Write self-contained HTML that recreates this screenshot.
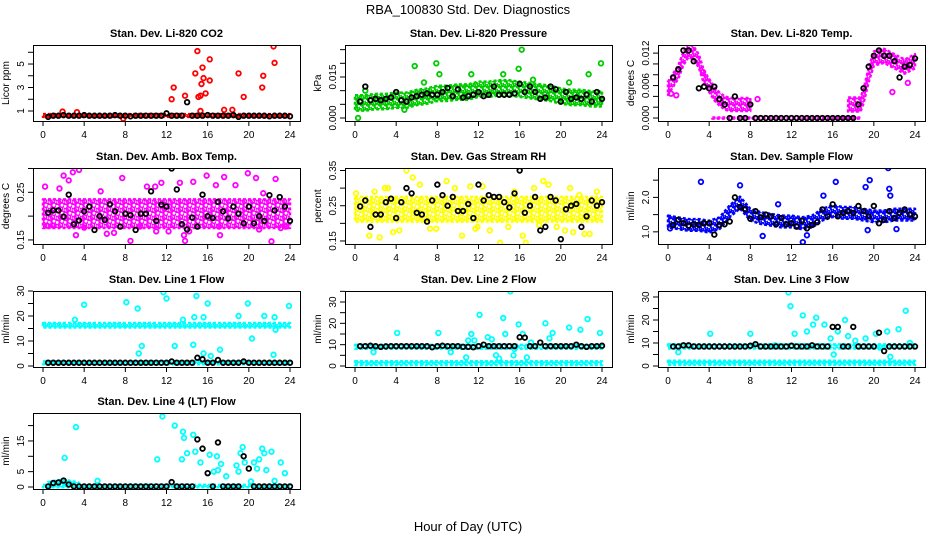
<!DOCTYPE html>
<html><head><meta charset="utf-8">
<style>
html,body{margin:0;padding:0;background:#fff;}
svg{display:block;font-family:"Liberation Sans",sans-serif;}
</style></head>
<body>
<svg id="chart" width="936" height="540" viewBox="0 0 936 540">
<defs id="defs"></defs>
<text x="468" y="14" text-anchor="middle" font-size="13">RBA_100830  Std. Dev. Diagnostics</text>
<text x="468" y="531" text-anchor="middle" font-size="13">Hour of Day (UTC)</text>
</svg>
<script>
const hours = [0,1,2,3,4,5,6,7,8,9,10,11,12,13,14,15,16,17,18,19,20,21,22,23,24];
const halfHours = [0.5,1,1.5,2,2.5,3,3.5,4,4.5,5,5.5,6,6.5,7,7.5,8,8.5,9,9.5,10,10.5,11,11.5,12,12.5,13,13.5,14,14.5,15,15.5,16,16.5,17,17.5,18,18.5,19,19.5,20,20.5,21,21.5,22,22.5,23,23.5,24];
const xTicks = [0,4,8,12,16,20,24];

// CO2
const co2BandY = [0.62,0.62,0.62,0.62,0.62,0.62,0.62,0.62,0.62,0.62,0.62,0.62,0.62,0.62,0.62,0.62,0.62,0.62,0.62,0.62,0.62,0.62,0.62,0.62,0.62];
const co2OutX = [12.5,12.7,13.8,14.8,15.0,15.1,15.3,15.3,15.4,15.5,15.6,15.8,16.2,16.2,17.6,18.4,19.0,19.5,21.3,21.4,22.4,22.5,1.9,3.3,7.8];
const co2OutY = [2.0,3.0,2.3,4.2,6.1,2.2,2.3,1.0,3.3,4.7,3.8,2.5,5.4,3.6,1.1,1.1,4.2,2.2,3.0,4.0,6.5,5.1,0.95,0.9,0.35];
const co2Black = [0.5,0.6,0.6,0.65,0.6,0.6,0.6,0.65,0.6,0.6,0.6,0.6,0.6,0.65,0.6,0.6,0.55,0.6,0.6,0.6,0.6,0.6,0.6,0.8,0.6,0.6,0.6,1.75,0.6,0.6,0.6,0.65,0.6,0.6,0.6,0.6,0.65,0.5,0.6,0.6,0.6,0.6,0.6,0.55,0.6,0.6,0.6,0.55];

// Pressure
const presBandY = [0.0055,0.0055,0.006,0.006,0.0065,0.0065,0.0075,0.008,0.009,0.009,0.0095,0.0095,0.0105,0.0105,0.011,0.011,0.0105,0.01,0.0095,0.009,0.008,0.0075,0.0075,0.007,0.007];
const presOutX = [0.3,5.8,7.9,8.2,16.2,15.9,23.9,22.7,4.8,6.7,11.3,1.0,14.4,17.3,20.8];
const presOutY = [0.0,0.019,0.020,0.016,0.025,0.018,0.020,0.016,0.003,0.013,0.016,0.010,0.016,0.014,0.013];
const presBlack = [0.006,0.0115,0.0065,0.007,0.0065,0.007,0.0075,0.0095,0.0065,0.006,0.0075,0.008,0.0085,0.009,0.0085,0.0085,0.0095,0.011,0.008,0.0105,0.0075,0.008,0.0085,0.0095,0.008,0.0085,0.0115,0.0085,0.0085,0.0085,0.009,0.0125,0.0095,0.0115,0.0095,0.007,0.0075,0.0115,0.0105,0.006,0.0095,0.007,0.0075,0.007,0.0085,0.006,0.0095,0.007];

// Temp
const tempAX = [0,0.5,1,1.5,2,2.5,3,3.5,4,4.5,5,5.5,6,7,8];
const tempAY = [0.0055,0.007,0.0085,0.011,0.0125,0.012,0.0105,0.0075,0.006,0.0045,0.0035,0.0028,0.0025,0.0025,0.0025];
const tempBX = [4.3,18.7];
const tempBY = [0,0];
const tempCX = [17.5,18.7,19,19.5,20,21,22,23,24];
const tempCY = [0.0025,0.0025,0.004,0.008,0.011,0.0115,0.0105,0.0095,0.0105];
const tempOutX = [0.3,0.8,8.7,21.8,23.3,3.4];
const tempOutY = [0.0045,0.0042,0.0035,0.0048,0.0065,0.0085];
const tempBlack = [0.0075,0.009,0.0125,0.0125,0.0105,0.0055,0.0058,0.0055,0.0058,0.0035,0.0025,0,0.004,0,0,0.0025,0,0,0,0,0,0,0,0,0,0,0,0,0,0,0,0,0,0,0,0,0.0025,0.0055,0.0095,0.0115,0.0125,0.0115,0.0115,0.0105,0.0075,0.0095,0.0098,0.011];

// Amb box temp
const ambBandY = [0.205,0.205,0.205,0.205,0.205,0.205,0.205,0.205,0.205,0.205,0.205,0.205,0.205,0.205,0.205,0.205,0.205,0.205,0.205,0.205,0.205,0.205,0.205,0.205,0.205];
const ambOutX = [0.2,0.4,1.6,2.0,2.5,2.9,3.5,4.0,5.6,6.9,7.7,8.5,10.1,11.0,11.5,12.2,13.3,13.8,14.6,15.9,16.8,17.2,17.6,18.7,19.9,20.7,21.4,22.2,22.6,23.1,23.6,1.0,6.2,9.4,13.7,17.1,21.0,3.2,10.9,14.2];
const ambOutY = [0.262,0.180,0.258,0.285,0.275,0.292,0.297,0.176,0.252,0.165,0.28,0.148,0.262,0.168,0.27,0.168,0.27,0.148,0.272,0.285,0.265,0.16,0.282,0.265,0.29,0.28,0.248,0.147,0.278,0.175,0.178,0.18,0.163,0.178,0.16,0.178,0.172,0.16,0.262,0.168];
const ambBlack = [0.207,0.212,0.212,0.199,0.245,0.183,0.191,0.21,0.22,0.171,0.2,0.192,0.225,0.21,0.178,0.205,0.202,0.171,0.205,0.205,0.252,0.19,0.224,0.22,0.3,0.256,0.183,0.172,0.197,0.178,0.245,0.2,0.196,0.23,0.21,0.195,0.22,0.205,0.185,0.22,0.185,0.2,0.19,0.244,0.212,0.24,0.22,0.19];

// Gas stream RH
const rhBandY = [0.24,0.24,0.24,0.24,0.24,0.24,0.24,0.24,0.24,0.24,0.24,0.24,0.24,0.24,0.24,0.24,0.24,0.24,0.24,0.24,0.24,0.24,0.24,0.24,0.24];
const rhOutX = [0.1,1.4,1.9,2.4,2.9,3.7,4.3,5.0,5.6,6.3,7.3,8.9,9.7,10.4,11.2,11.9,12.4,13.1,14.1,14.9,15.5,16.3,16.6,17.4,18.3,18.8,19.6,20.4,21.2,21.8,22.3,22.8,23.5,3.2,7.9,11.7,17.9,20.9];
const rhOutY = [0.285,0.165,0.29,0.16,0.3,0.175,0.18,0.35,0.33,0.31,0.185,0.32,0.3,0.165,0.305,0.19,0.305,0.18,0.145,0.19,0.29,0.165,0.145,0.3,0.32,0.31,0.19,0.18,0.175,0.28,0.17,0.17,0.29,0.3,0.185,0.185,0.195,0.3];
const rhBlack = [0.248,0.265,0.19,0.225,0.225,0.26,0.27,0.215,0.26,0.3,0.285,0.23,0.225,0.205,0.265,0.31,0.28,0.25,0.275,0.235,0.235,0.255,0.215,0.31,0.265,0.28,0.275,0.275,0.26,0.245,0.285,0.35,0.23,0.25,0.275,0.18,0.19,0.275,0.265,0.155,0.24,0.25,0.255,0.19,0.22,0.265,0.25,0.26];

// Sample flow
const flowBandY = [1.3,1.25,1.2,1.2,1.15,1.25,1.6,1.85,1.5,1.4,1.35,1.3,1.3,1.25,1.3,1.5,1.6,1.55,1.55,1.5,1.45,1.45,1.5,1.5,1.5];
const flowOutX = [3.2,7.0,10.7,13.1,13.5,9.2,16.3,19.2,19.6,21.4,21.5,21.6,15.1,19.4,0.2,22.2];
const flowOutY = [2.45,2.35,1.8,0.7,0.9,0.88,2.45,2.3,2.5,2.85,2.25,2.05,2.05,1.05,1.1,1.08];
const flowBlack = [1.2,1.35,1.25,1.18,1.22,1.2,1.25,1.25,0.92,1.2,1.22,1.3,2.0,1.72,1.65,1.38,1.6,1.42,1.5,1.45,1.22,1.4,1.22,1.25,1.15,1.32,1.1,1.2,1.28,1.65,1.45,1.8,1.45,1.55,1.6,1.55,1.75,1.6,1.45,1.75,1.25,1.35,1.6,1.4,1.55,1.65,1.5,1.45];

// Line 1
const l1OutX = [4,8.1,9.2,11.7,12,14.9,16,19.9,23.9,19,21.5,22.5,9.6,9.3,12.8,14.6,15.6,16.3,17.2,20.3,22.4,3.1,13.6,14.7,15.6,22.6];
const l1OutY = [24.5,25.5,23,29.5,27,28,25,25,24,20,20,19.5,8,5,8,8.5,5,4,6.5,11,4.5,18.5,18.5,19.5,19.5,14.5];
const l1Black = [1.3,1.3,1.3,1.3,1.3,1.3,1.3,1.3,1.3,1.3,1.3,1.3,1.3,1.3,1.3,1.3,1.3,1.3,1.3,1.3,1.3,1.3,1.3,1.3,1.8,1.3,1.3,1.3,1.3,3.3,2.7,1.3,1.3,2.4,1.3,1.3,1.3,1.3,1.8,1.3,1.3,1.3,1.3,1.3,1.3,1.3,1.3,1.3];

// Line 2
const l2OutX = [1.8,4.1,8.1,9.3,11.0,11.3,11.6,12.1,12.9,13.3,13.7,14.4,14.6,15.1,15.4,15.5,15.9,16.3,16.7,17.1,18.5,18.9,19.2,20.8,21.9,22.6,23.8,10.8,14.0];
const l2OutY = [6.5,15.5,15.5,6.5,12,15,12,24,13.5,12.5,5,22.5,15,35,5,8,19.5,15,4,11,20,13,15.5,18,17,22,15.5,4,3.5];
const l2Black = [9.3,9.3,9.5,9.3,9,9.2,9.3,9.3,9.3,9.3,9.3,9.3,9.3,9.3,8.8,9.3,9.5,9.3,9.3,9.3,9,9,8.8,9.3,10,9.3,9.3,9.3,9.3,9.3,9.3,13.5,13.3,9.3,9.3,11,9.3,9.3,9.3,9.3,9.3,9.3,10,9.3,9,9.3,9.3,9.5];

// Line 3
const l3OutX = [1.0,4.1,8.0,10.4,11.7,11.9,12.3,13.1,13.5,14.1,14.4,15.2,15.8,16.5,17.2,17.5,18.2,20.2,20.6,21.3,22.4,23.1,23.5,16.1,19.2,21.6];
const l3OutY = [6,14,14,9,32,26,14,22,15,18,21,18,12,15,20,13,11,14,8,15,16,24,10,5,12,4];
const l3Black = [8.5,8.5,9,9,8.5,8.5,8.5,8.5,8.5,8.5,8.5,8.5,8.5,8.5,8.5,8.8,9.5,8.5,8.5,8.5,8.5,8.5,8.5,8.8,8.5,8.5,8.5,9,8.5,8.5,8.5,17,17,8.5,8.5,17,8.5,8.5,8.5,8.5,14.5,6.5,8.5,8.5,8.5,8.5,8.5,8.5];

// Line 4
const l4BumpX = [0.5,1,2,3,3.5];
const l4BumpY = [1,1.3,1.8,1.2,0.8];
const l4OutX = [2.1,3.2,5.3,11.1,11.6,12.8,13.6,13.7,14.0,13.5,14.6,14.8,15.3,16.2,16.6,16.9,17.3,17.0,17.8,18.8,19.0,19.2,19.4,19.6,20.2,20.5,20.8,21.0,21.3,21.5,21.7,22.2,22.5,23.1,23.5];
const l4OutY = [9.5,19.5,2,9,23,20,18,16,11,9,17,11.5,8,10.5,5,10,7.5,5.5,3.5,7,5,11,13,8,1.8,8,6,9,12.5,11,5.5,11.5,2,8,4.5];
const l4Black = [0.2,1.3,1.5,2.1,0.8,0.2,0.2,0.2,0.2,0.2,0.2,0.2,0.2,0.2,0.2,0.2,0.2,0.2,0.2,0.2,0.2,0.2,0.2,0.2,1.6,0.2,0.2,0.2,0.2,15.5,12.5,4.5,0.2,14.5,0.2,0.2,0.2,0.2,10,6,0.2,0.2,0.2,0.2,0.2,0.2,0.2,0.2];

const svg = document.getElementById('chart');
const defs = document.getElementById('defs');
const NS = 'http://www.w3.org/2000/svg';
function mk(tag, attrs, parent){ const e=document.createElementNS(NS,tag); for(const k in attrs) e.setAttribute(k,attrs[k]); (parent||svg).appendChild(e); return e; }

const patternIds = {};
function pattern(color, step){
  const id = 'p' + color.replace('#','') + String(step).replace('.','_');
  if(patternIds[id]) return id;
  patternIds[id]=1;
  const p = mk('pattern',{id:id,width:step*2,height:step*2,patternUnits:'userSpaceOnUse'},defs);
  mk('circle',{cx:step/2,cy:step/2,r:2.2,fill:'none',stroke:color,'stroke-width':1.6},p);
  mk('circle',{cx:step*1.5,cy:step*1.3,r:2.2,fill:'none',stroke:color,'stroke-width':1.6},p);
  mk('circle',{cx:step*1.1,cy:step*0.2,r:2.2,fill:'none',stroke:color,'stroke-width':1.6},p);
  mk('circle',{cx:step*0.3,cy:step*1.6,r:2.2,fill:'none',stroke:color,'stroke-width':1.6},p);
  return id;
}

const colLeft = [33,345,658];
const rowTop = [45,168,291,413];
const W = 267, H = 76;

function panel(o){
  const L = colLeft[o.c], T = rowTop[o.r], B = T+H;
  const g = mk('g',{});
  
  
  const xs = v => L + 10 + v/24*247;
  const ys = v => B - (v - o.ymin)/(o.ymax - o.ymin)*H;
  const clipId = 'clip'+o.name;
  const cp = mk('clipPath',{id:clipId},defs);
  mk('rect',{x:L,y:T,width:W,height:H},cp);
  const plot = mk('g',{'clip-path':'url(#'+clipId+')'},g);
  const pid = pattern(o.color, o.step||3);
  (o.bands||[]).forEach(b=>{
    let pts=[];
    for(let i=0;i<b.x.length;i++) pts.push(xs(b.x[i]).toFixed(1)+','+ys(b.y[i]+b.w).toFixed(1));
    for(let i=b.x.length-1;i>=0;i--) pts.push(xs(b.x[i]).toFixed(1)+','+ys(b.y[i]-b.w).toFixed(1));
    const poly = mk('polygon',{points:pts.join(' '),fill:'url(#'+pid+')',stroke:o.color,'stroke-width':2.5,'stroke-dasharray':'3 2','stroke-linejoin':'round'},plot);
    
    
  });
  (o.outX||[]).forEach((x,i)=>{
    const c = mk('circle',{cx:xs(x),cy:ys(o.outY[i]),r:2.3,fill:'none',stroke:o.color,'stroke-width':1.8},plot);
    
    
  });
  (o.black||[]).forEach((v,i)=>{
    const c = mk('circle',{cx:xs(halfHours[i]),cy:ys(v),r:2.3,fill:'none',stroke:'#000','stroke-width':1.8},plot);
    
    
  });
  const box = mk('rect',{x:L+0.5,y:T+0.5,width:W,height:H,fill:'none',stroke:'#000','stroke-width':1},g);
  
  
  const t = mk('text',{x:L+W/2,y:T-8,'text-anchor':'middle','font-size':11,'font-weight':'bold'},g);
  t.textContent = o.title;
  
  
  mk('line',{x1:xs(0),x2:xs(24),y1:B+0.5,y2:B+0.5,stroke:'#000'},g);
  xTicks.forEach(v=>{
    mk('line',{x1:xs(v),x2:xs(v),y1:B,y2:B+5,stroke:'#000'},g);
    const tl = mk('text',{x:xs(v),y:B+17,'text-anchor':'middle','font-size':10},g);
    tl.textContent = v;
    
    
  });
  mk('line',{x1:L+0.5,x2:L+0.5,y1:ys(o.yt[0]),y2:ys(o.yt[o.yt.length-1]),stroke:'#000'},g);
  o.yt.forEach(v=>{ mk('line',{x1:L-5,x2:L,y1:ys(v),y2:ys(v),stroke:'#000'},g); });
  o.yl.forEach(v=>{
    const yy = ys(v), xx = L-9;
    const tl = mk('text',{x:xx,y:yy,'text-anchor':'middle','font-size':10,transform:'rotate(-90 '+xx+' '+yy+')'},g);
    tl.textContent = o.fmt ? v.toFixed(o.fmt) : v;
    
    
  });
  const yx = L-24, yy = T+H/2;
  const yl = mk('text',{x:yx,y:yy,'text-anchor':'middle','font-size':10,transform:'rotate(-90 '+yx+' '+yy+')'},g);
  yl.textContent = o.ylab;
  
  
}

const flat = v => hours.map(()=>v);
panel({name:'co2-panel',c:0,r:0,title:'Stan. Dev. Li-820 CO2',ylab:'Licor ppm',color:'#ff0000',ymin:0.149,ymax:6.62,yt:[1,2,3,4,5,6],yl:[1,3,5],
  bands:[{x:hours,y:co2BandY,w:0.12}],outX:co2OutX,outY:co2OutY,black:co2Black});
panel({name:'pressure-panel',c:1,r:0,title:'Stan. Dev. Li-820 Pressure',ylab:'kPa',color:'#00cc00',ymin:-0.0011,ymax:0.0267,yt:[0,0.005,0.01,0.015,0.02,0.025],yl:[0,0.015],fmt:3,
  bands:[{x:hours,y:presBandY,w:0.0028}],outX:presOutX,outY:presOutY,black:presBlack});
panel({name:'temp-panel',c:2,r:0,title:'Stan. Dev. Li-820 Temp.',ylab:'degrees C',color:'#ff00ff',ymin:-0.00055,ymax:0.0135,yt:[0,0.002,0.004,0.006,0.008,0.01,0.012],yl:[0,0.006,0.012],fmt:3,
  bands:[{x:tempAX,y:tempAY,w:0.0012},{x:tempBX,y:tempBY,w:0.0001},{x:tempCX,y:tempCY,w:0.0013}],outX:tempOutX,outY:tempOutY,black:tempBlack});
panel({name:'amb-box-temp-panel',c:0,r:1,title:'Stan. Dev. Amb. Box Temp.',ylab:'degrees C',color:'#ff00ff',step:4,ymin:0.1415,ymax:0.301,yt:[0.15,0.2,0.25,0.3],yl:[0.15,0.25],fmt:2,
  bands:[{x:hours,y:ambBandY,w:0.03}],outX:ambOutX,outY:ambOutY,black:ambBlack});
panel({name:'gas-stream-rh-panel',c:1,r:1,title:'Stan. Dev. Gas Stream RH',ylab:'percent',color:'#ffff00',step:4,ymin:0.1414,ymax:0.3571,yt:[0.15,0.2,0.25,0.3,0.35],yl:[0.15,0.25,0.35],fmt:2,
  bands:[{x:hours,y:rhBandY,w:0.035}],outX:rhOutX,outY:rhOutY,black:rhBlack});
panel({name:'sample-flow-panel',c:2,r:1,title:'Stan. Dev. Sample Flow',ylab:'ml/min',color:'#0000ff',ymin:0.647,ymax:2.853,yt:[1,1.5,2,2.5],yl:[1,2],fmt:1,
  bands:[{x:hours,y:flowBandY,w:0.17}],outX:flowOutX,outY:flowOutY,black:flowBlack});
panel({name:'line1-flow-panel',c:0,r:2,title:'Stan. Dev. Line 1 Flow',ylab:'ml/min',color:'#00ffff',ymin:-0.4,ymax:30,yt:[0,5,10,15,20,25,30],yl:[0,10,20,30],
  bands:[{x:hours,y:flat(16.3),w:0.9},{x:hours,y:flat(1.3),w:0.6}],outX:l1OutX,outY:l1OutY,black:l1Black});
panel({name:'line2-flow-panel',c:1,r:2,title:'Stan. Dev. Line 2 Flow',ylab:'ml/min',color:'#00ffff',ymin:-0.47,ymax:35.16,yt:[0,5,10,15,20,25,30,35],yl:[0,10,20,30],
  bands:[{x:hours,y:flat(9.0),w:0.9},{x:hours,y:flat(1.3),w:0.9}],outX:l2OutX,outY:l2OutY,black:l2Black});
panel({name:'line3-flow-panel',c:2,r:2,title:'Stan. Dev. Line 3 Flow',ylab:'ml/min',color:'#00ffff',ymin:-0.43,ymax:32.6,yt:[0,5,10,15,20,25,30],yl:[0,10,20,30],
  bands:[{x:hours,y:flat(8.5),w:0.9},{x:hours,y:flat(1.4),w:0.9}],outX:l3OutX,outY:l3OutY,black:l3Black});
panel({name:'line4-flow-panel',c:0,r:3,title:'Stan. Dev. Line 4 (LT) Flow',ylab:'ml/min',color:'#00ffff',ymin:-0.65,ymax:24.1,yt:[0,5,10,15,20],yl:[0,5,15],
  bands:[{x:hours,y:flat(0.3),w:0.4},{x:l4BumpX,y:l4BumpY,w:0.6}],outX:l4OutX,outY:l4OutY,black:l4Black});
</script>
</body></html>
